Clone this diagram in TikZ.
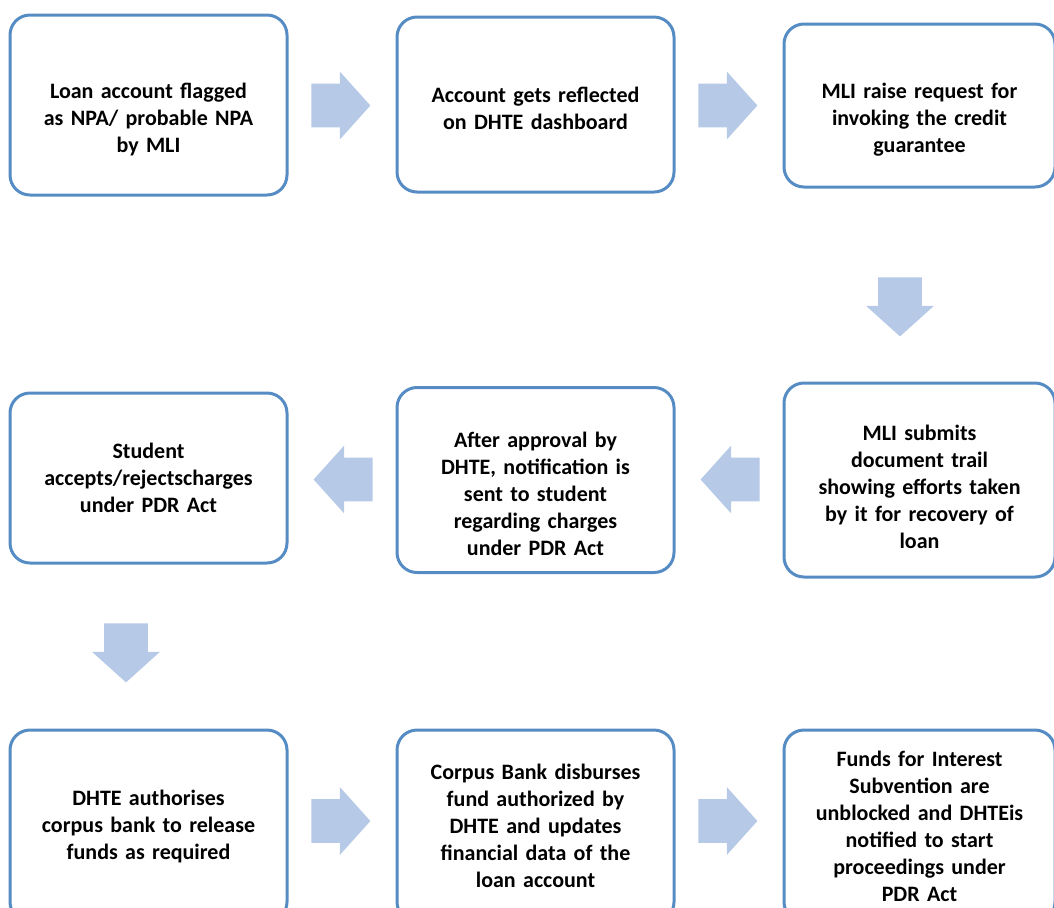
\documentclass[tikz,border=0pt]{standalone}
\usepackage{fontspec}
\setmainfont{Carlito}
\usepackage{xcolor}
\usetikzlibrary{shapes.arrows}
\definecolor{boxblue}{RGB}{86,140,196}
\definecolor{arrowblue}{RGB}{182,202,231}

\begin{document}
\begin{tikzpicture}[x=0.5pt, y=-0.5pt,
    stepbox/.style={draw=boxblue, line width=1.5pt, rounded corners=10pt, fill=white, text width=125pt, align=center, minimum width=138.5pt, inner sep=0pt, font=\fontsize{11}{13.5}\selectfont\bfseries},
    lowtext/.style={execute at begin node={\rule{0pt}{#1}}},
    lowtext/.default=22pt,
    flow/.style={single arrow, fill=arrowblue, draw=none, anchor=tail, minimum height=29.5pt, minimum width=33.5pt, single arrow head extend=6pt, single arrow tip angle=96, inner xsep=0pt, inner ysep=10.75pt},
    flowdown/.style={flow, shape border rotate=270, inner xsep=10.75pt, inner ysep=0pt}]
    \useasboundingbox (0,0) rectangle (1054,907);

    % Define nodes
    \node[stepbox, lowtext, minimum height=90pt] (flagged) at (148.5,105) {Loan account flagged\\as NPA/ probable NPA\\by MLI};
    \node[stepbox, lowtext=12pt, minimum height=87.5pt] (dashboard) at (535.5,104.5) {Account gets reflected\\on DHTE dashboard};
    \node[stepbox, lowtext, minimum height=81.5pt, minimum width=135.5pt] (request) at (919.5,105.5) {MLI raise request for\\invoking the credit\\guarantee};
    \node[stepbox, lowtext=15pt, minimum height=97pt, minimum width=135.5pt] (submits) at (919.5,480) {MLI submits\\document trail\\showing efforts taken\\by it for recovery of\\loan};
    \node[stepbox, lowtext, minimum height=92.5pt] (notify) at (535.5,480) {After approval by\\DHTE, notification is\\sent to student\\regarding charges\\under PDR Act};
    \node[stepbox, minimum height=85pt] (accepts) at (148.5,478) {Student\\accepts/rejectscharges\\under PDR Act};
    \node[stepbox, minimum height=96pt] (authorise) at (148.5,826) {DHTE authorises\\corpus bank to release\\funds as required};
    \node[stepbox, minimum height=96pt] (disburse) at (535.5,826) {Corpus Bank disburses\\fund authorized by\\DHTE and updates\\financial data of the\\loan account};
    \node[stepbox, minimum height=96pt, minimum width=135.5pt] (unblock) at (919.5,826) {Funds for Interest\\Subvention are\\unblocked and DHTEis\\notified to start\\proceedings under\\PDR Act};

    % Define connections (tail end of each block arrow)
    \node[flow] (flagtodash) at (311,105.5) {};
    \node[flow] (dashtoreq) at (698,105.5) {};
    \node[flowdown] (reqtosub) at (900,277) {};
    \node[flow, shape border rotate=180] (subtonotify) at (760,479.5) {};
    \node[flow, shape border rotate=180] (notifytoacc) at (373,479.5) {};
    \node[flowdown] (acctoauth) at (126,623) {};
    \node[flow] (authtodisb) at (311,821) {};
    \node[flow] (disbtounbl) at (698,821) {};
\end{tikzpicture}
\end{document}
